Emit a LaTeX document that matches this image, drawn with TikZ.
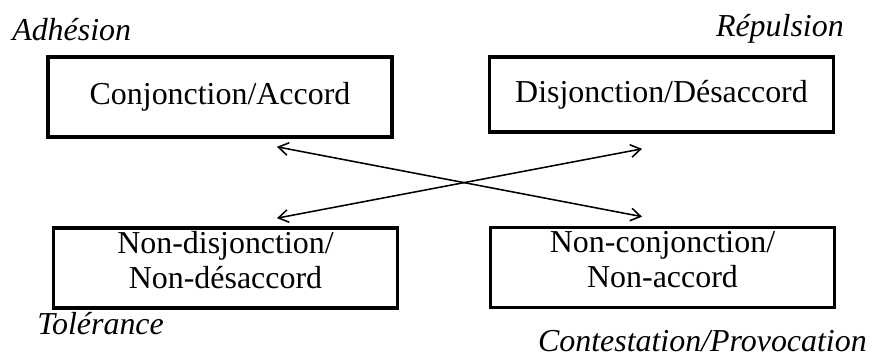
\documentclass[tikz,border=0pt]{standalone}
\usepackage{fontspec}
\setmainfont{Liberation Serif}
\usetikzlibrary{arrows.meta, calc}

\tikzset{
  boite/.style={draw, line width=2.6pt, minimum width=8.6cm, align=center, inner sep=0pt,
    font=\fontsize{22.7}{24.8}\selectfont},
  deuxlignes/.style={boite, minimum height=2cm, text depth=0.4cm},
  etiquette/.style={inner sep=0pt, font=\fontsize{22.7}{25.6}\selectfont\itshape},
  fleche/.style={line width=1.1pt, {Straight Barb[length=7pt, width=9pt]}-{Straight Barb[length=7pt, width=9pt]}}
}

\begin{document}
\begin{tikzpicture}[x=0.025cm, y=-0.025cm, line cap=round]
  \useasboundingbox (0,0) rectangle (872,359);

  % les quatre cases
  \node[boite, minimum height=2cm] (accord) at (220,97) {Conjonction/Accord};
  \node[boite, minimum height=1.875cm] (desaccord) at (661.5,94.5) {Disjonction/Désaccord};
  \node[deuxlignes] (nondesaccord) at (225.5,268) {Non-disjonction/\\Non-désaccord};
  \node[deuxlignes] (nonaccord) at (662.5,267.5) {Non-conjonction/\\Non-accord};

  % etiquettes en italique
  \node[etiquette, anchor=base west] (adhesion) at (12,41) {Adhésion};
  \node[etiquette, anchor=base east] (repulsion) at (844,37) {Répulsion};
  \node[etiquette, anchor=base west] (tolerance) at (37,334) {Tolérance};
  \node[etiquette, anchor=base east] (contestation) at (867,351) {Contestation/Provocation};

  % bouts des fleches
  \coordinate (a1) at ($(accord.south)+(57,8)$);
  \coordinate (a2) at ($(nonaccord.north)+(-20.5,-9)$);
  \coordinate (b1) at ($(nondesaccord.north)+(51.5,-8)$);
  \coordinate (b2) at ($(desaccord.south)+(-19.5,15)$);

  % fleches croisees
  \draw[fleche] (a1) -- (a2);
  \draw[fleche] (b1) -- (b2);
\end{tikzpicture}
\end{document}
